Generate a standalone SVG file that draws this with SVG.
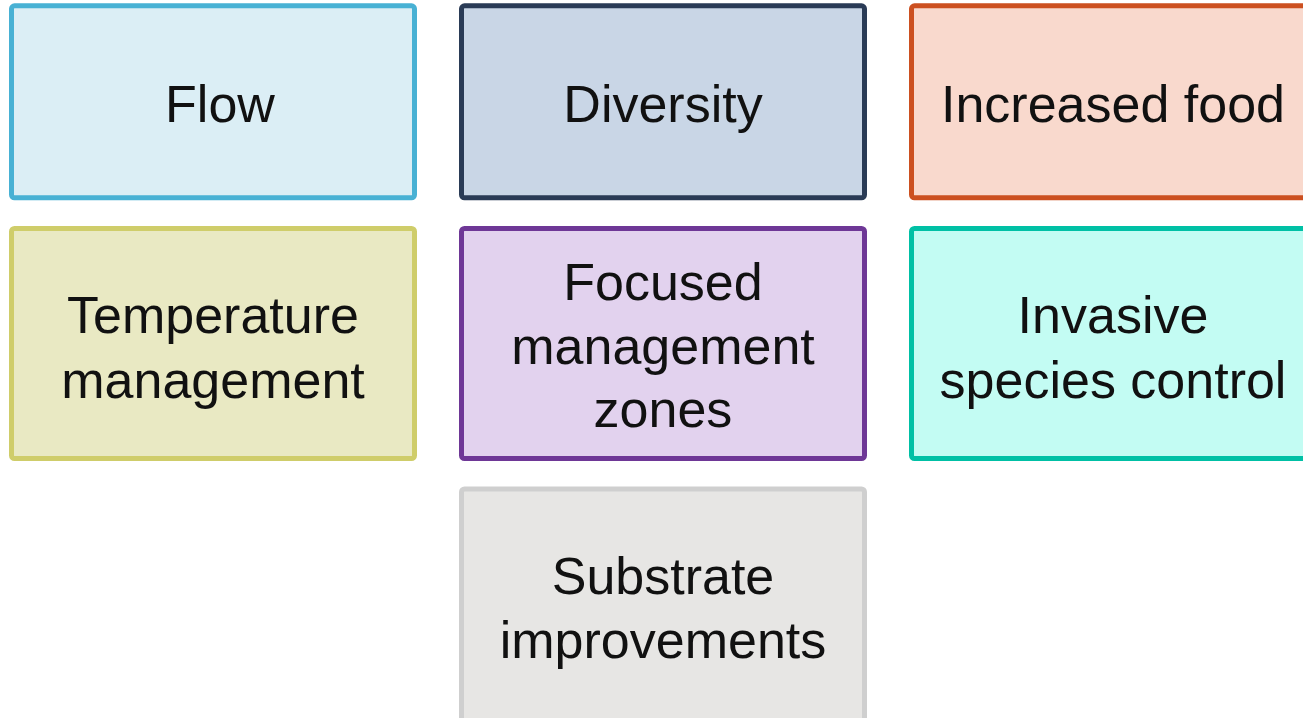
<svg xmlns="http://www.w3.org/2000/svg" width="1303" height="718" viewBox="0 0 1303 718">
<style>
.box{stroke-width:5}
.t{font-family:"Liberation Sans",Arial,sans-serif;font-size:52px;fill:#111;text-anchor:middle}
</style>
<rect width="1303" height="718" fill="#ffffff"/>
<g id="connectors"></g>
<g id="flow">
<rect class="box" x="11.5" y="5.8" width="403" height="192" rx="3" fill="#dbeef5" stroke="#48b1d4"/>
<text class="t" x="220" y="122">Flow</text>
</g>
<g id="diversity">
<rect class="box" x="461.5" y="5.8" width="403" height="192" rx="3" fill="#c9d6e6" stroke="#2a3b56"/>
<text class="t" x="663" y="122">Diversity</text>
</g>
<g id="increased-food">
<rect class="box" x="911.5" y="5.8" width="403" height="192" rx="3" fill="#f9d9cd" stroke="#cc5020"/>
<text class="t" x="1113" y="122">Increased food</text>
</g>
<g id="temperature">
<rect class="box" x="11.5" y="228.5" width="403" height="230" rx="3" fill="#e9e9c3" stroke="#cfcd6a"/>
<text class="t" x="213" y="333">Temperature</text>
<text class="t" x="213" y="398">management</text>
</g>
<g id="focused">
<rect class="box" x="461.5" y="228.5" width="403" height="230" rx="3" fill="#e2d2ee" stroke="#6e3796"/>
<text class="t" x="663" y="300">Focused</text>
<text class="t" x="663" y="364">management</text>
<text class="t" x="663" y="427">zones</text>
</g>
<g id="invasive">
<rect class="box" x="911.5" y="228.5" width="403" height="230" rx="3" fill="#c3fcf3" stroke="#00c0a5"/>
<text class="t" x="1113" y="333">Invasive</text>
<text class="t" x="1113" y="398">species control</text>
</g>
<g id="substrate">
<rect class="box" x="461.5" y="489" width="403" height="234" rx="3" fill="#e7e6e4" stroke="#cfcfcf"/>
<text class="t" x="663" y="594">Substrate</text>
<text class="t" x="663" y="658">improvements</text>
</g>
</svg>
